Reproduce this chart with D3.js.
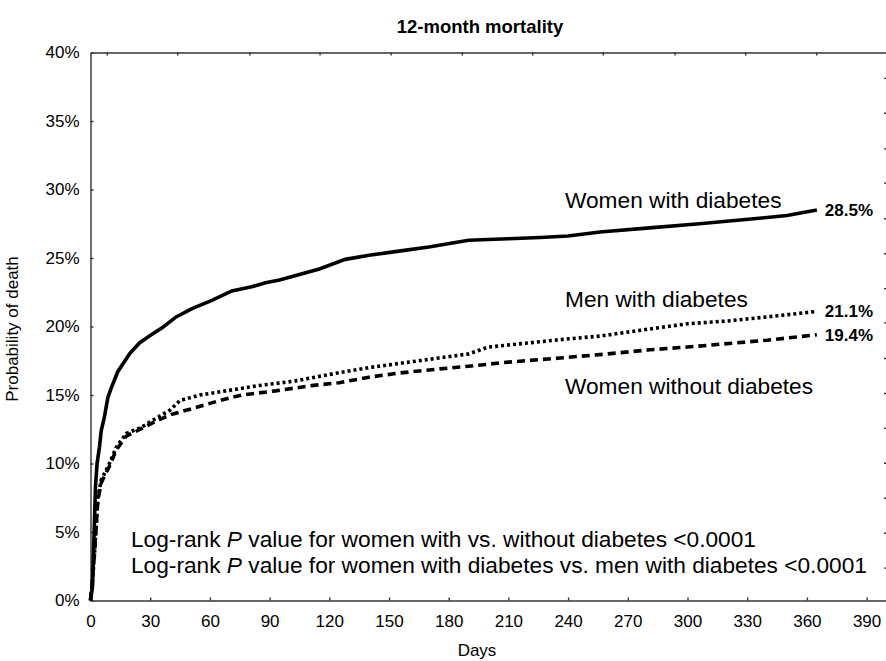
<!DOCTYPE html>
<html>
<head>
<meta charset="utf-8">
<script src="https://cdn.jsdelivr.net/npm/d3@7"></script>
<style>
  body { margin: 0; background: #fff; }
  svg { display: block; font-family: "Liberation Sans", Arial, sans-serif; }
  .axis path, .axis line { stroke: #333; stroke-width: 1.4; }
  .axis text { fill: #000; font-size: 17px; font-family: "Liberation Sans", Arial, sans-serif; }
</style>
</head>
<body>
<svg id="chart" width="886" height="661"></svg>
<script>
// days, percent
const womenDiabetes = [
  [0, 0], [1, 1], [1.5, 3.4], [2.5, 8.3], [3.3, 10], [4.5, 11.2], [5.4, 12.4], [7, 13.4],
  [8.7, 14.8], [10.4, 15.5], [13.7, 16.7], [19.6, 18], [24.6, 18.8], [29.6, 19.3], [36, 19.9],
  [43, 20.7], [51, 21.3], [61, 21.9], [71, 22.6], [81, 22.9], [88, 23.2], [95, 23.4],
  [105, 23.8], [115, 24.2], [128, 24.9], [140, 25.2], [155, 25.5], [170, 25.8], [190, 26.3],
  [210, 26.4], [226, 26.5], [240, 26.6], [256, 26.9], [281, 27.2], [306, 27.5], [336, 27.9],
  [350, 28.1], [365, 28.5]
]
const menDiabetes = [
  [0, 0], [1, 1.5], [2, 3.4], [3, 5.8], [3.7, 7.5], [5.4, 8.8], [9.5, 10], [13, 11.2],
  [18, 12.2], [25, 12.6], [33, 13.3], [40, 13.9], [45, 14.6], [55, 15], [68, 15.3], [85, 15.7],
  [102, 16], [120, 16.5], [140, 17], [155, 17.3], [175, 17.7], [190, 18], [200, 18.5],
  [220, 18.8], [240, 19.1], [256, 19.3], [280, 19.8], [300, 20.2], [320, 20.4], [340, 20.7],
  [365, 21.1]
]
const womenNoDiabetes = [
  [0, 0], [1, 1.5], [2, 3.4], [3, 5.8], [3.7, 7.3], [5.4, 8.6], [9.5, 9.8], [13, 11],
  [18, 12], [25, 12.5], [33, 13.1], [41, 13.6], [51, 14], [65, 14.6], [76, 15], [93, 15.3],
  [112, 15.7], [125, 15.9], [140, 16.3], [155, 16.6], [175, 16.9], [190, 17.1], [210, 17.4],
  [236, 17.7], [260, 18], [281, 18.3], [300, 18.5], [316, 18.7], [340, 19], [365, 19.4]
]

const xTicks = [0, 30, 60, 90, 120, 150, 180, 210, 240, 270, 300, 330, 360, 390]
const yTicks = [0, 5, 10, 15, 20, 25, 30, 35, 40]
const topTicks = [8.2, 43.6, 79.9, 115.1, 150.8, 186.6, 222, 257.4, 293.5, 329, 364.7]
const rightTicks = [2.4, 4.95, 7.5, 10.05, 12.6, 15.15, 17.7, 20.3, 22.8, 25.35, 27.9, 30.5, 33, 35.6, 38.15]

const series = [
  { data: womenDiabetes, dash: null, label: "Women with diabetes", end: "28.5%" },
  { data: menDiabetes, dash: "3,3", label: "Men with diabetes", end: "21.1%" },
  { data: womenNoDiabetes, dash: "8,5", label: "Women without diabetes", end: "19.4%" },
]

const svg = d3.select("#chart")

const x = d3.scaleLinear().domain([0, 400]).range([90.5, 886.5])
const y = d3.scaleLinear().domain([0, 40]).range([600.5, 52.5])

svg.append("g")
  .attr("class", "axis")
  .attr("transform", `translate(0,${y(0)})`)
  .call(d3.axisBottom(x).tickValues(xTicks).tickSizeInner(-3).tickSizeOuter(0).tickPadding(14))

svg.append("g")
  .attr("class", "axis")
  .attr("transform", `translate(${x(0)},0)`)
  .call(d3.axisLeft(y).tickValues(yTicks).tickFormat((d) => d + "%")
    .tickSizeInner(-3).tickSizeOuter(0).tickPadding(11))

svg.append("g")
  .attr("class", "axis")
  .attr("transform", `translate(0,${y(40)})`)
  .call(d3.axisTop(x).tickValues(topTicks).tickFormat("").tickSizeInner(-3).tickSizeOuter(0))

// right frame sits just past the edge, only its ticks show
svg.append("g")
  .attr("class", "axis")
  .attr("transform", `translate(${x(400) + 0.5},0)`)
  .call(d3.axisRight(y).tickValues(rightTicks).tickFormat("").tickSizeInner(-3).tickSizeOuter(0))

const line = d3.line()
  .x((d) => x(d[0]))
  .y((d) => y(d[1]))

svg.selectAll(".curve")
  .data(series)
  .enter()
  .append("path")
  .attr("class", "curve")
  .attr("d", (d) => line(d.data))
  .attr("fill", "none")
  .attr("stroke", "#000")
  .attr("stroke-width", 3.6)
  .attr("stroke-dasharray", (d) => d.dash)

// end values
svg.selectAll(".endlabel")
  .data(series)
  .enter()
  .append("text")
  .attr("class", "endlabel")
  .attr("x", (d) => x(d.data[d.data.length - 1][0]) + 8)
  .attr("y", (d) => y(d.data[d.data.length - 1][1]) + 6)
  .attr("font-size", 17)
  .attr("font-weight", "bold")
  .text((d) => d.end)

const labelY = [208, 307, 394]
svg.selectAll(".serieslabel")
  .data(series)
  .enter()
  .append("text")
  .attr("class", "serieslabel")
  .attr("x", 565)
  .attr("y", (d, i) => labelY[i])
  .attr("font-size", 22.7)
  .text((d) => d.label)

const notes = [
  ["Log-rank ", "P", " value for women with vs. without diabetes <0.0001"],
  ["Log-rank ", "P", " value for women with diabetes vs. men with diabetes <0.0001"],
]
notes.forEach((n, i) => {
  const t = svg.append("text")
    .attr("x", 131)
    .attr("y", 547 + i * 26)
    .attr("font-size", 22.7)
  t.append("tspan").text(n[0])
  t.append("tspan").attr("font-style", "italic").text(n[1])
  t.append("tspan").text(n[2])
})

svg.append("text")
  .attr("x", 480)
  .attr("y", 33)
  .attr("text-anchor", "middle")
  .attr("font-size", 18.5)
  .attr("font-weight", "bold")
  .text("12-month mortality")

svg.append("text")
  .attr("x", 477)
  .attr("y", 656)
  .attr("text-anchor", "middle")
  .attr("font-size", 17)
  .text("Days")

svg.append("text")
  .attr("transform", "translate(18,329) rotate(-90)")
  .attr("text-anchor", "middle")
  .attr("font-size", 17)
  .text("Probability of death")
</script>
</body>
</html>
